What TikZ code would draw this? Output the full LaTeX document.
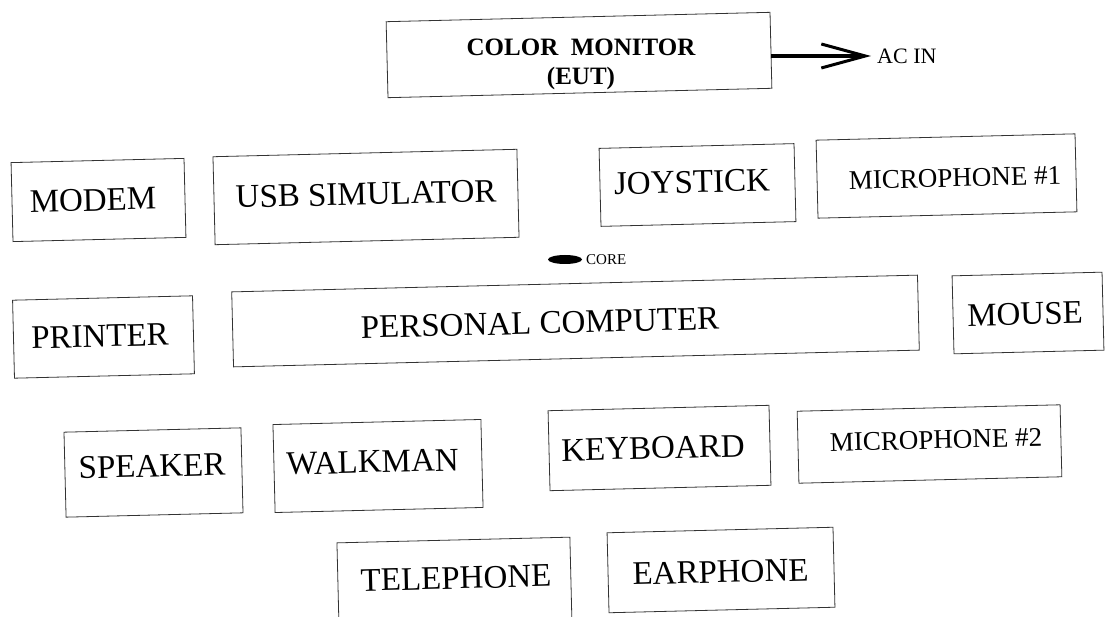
\documentclass[tikz,border=0pt]{standalone}
\usepackage{fontspec}
\setmainfont{Liberation Serif}
\usetikzlibrary{arrows.meta,shapes.geometric}
\begin{document}
\begin{tikzpicture}[x=1pt,y=-1pt,
  box/.style={draw=black!80,line width=0.8pt,rotate=1.4,inner sep=0pt},
  lbl/.style={inner sep=0pt,rotate=1.4,font=\fontsize{33}{33}\selectfont},
  slbl/.style={lbl,font=\fontsize{27}{27}\selectfont},
  mlbl/.style={inner sep=0pt,anchor=base,font=\bfseries\fontsize{25}{25}\selectfont},
  feed/.style={line width=3.2pt,shorten >=6pt,
    -{Straight Barb[length=44pt,width=24pt,line width=3pt]}}]
\useasboundingbox (0,0) rectangle (1107,617);
% EUT
\node[box,minimum width=384,minimum height=76] (mon) at (579,55) {};
\node[mlbl] (mon-t1) at (581,56) {COLOR\ \ MONITOR};
\node[mlbl] (mon-t2) at (581,85) {(EUT)};
\node[anchor=west,inner sep=0pt,font=\fontsize{22}{22}\selectfont] (acin) at (877,56) {AC IN};
\draw[feed] (mon.east |- acin.west) -- (acin.west);
% row 1
\node[box,minimum width=173,minimum height=79] (modem) at (98.5,200) {};
\node[lbl] (modem-t) at (93,200) {MODEM};
\node[box,minimum width=304,minimum height=88] (usb) at (366,197) {};
\node[lbl] (usb-t) at (366,194) {USB SIMULATOR};
\node[box,minimum width=195,minimum height=78] (joy) at (697.5,185) {};
\node[lbl] (joy-t) at (692,182) {JOYSTICK};
\node[box,minimum width=259,minimum height=78] (mic1) at (946.5,176) {};
\node[slbl] (mic1-t) at (955,178) {MICROPHONE \#1};
% core
\node[fill=black,ellipse,minimum width=34,minimum height=9,inner sep=0pt] (coreblob) at (565,259.5) {};
\node[anchor=west,inner sep=0pt,font=\fontsize{15}{15}\selectfont] (corelbl) at (586,260) {CORE};
% row 2
\node[box,minimum width=180,minimum height=78] (printer) at (103.5,337) {};
\node[lbl] (printer-t) at (100,336) {PRINTER};
\node[box,minimum width=686,minimum height=75] (pc) at (575.5,321) {};
\node[lbl] (pc-t) at (540,323) {PERSONAL COMPUTER};
\node[box,minimum width=150,minimum height=78] (mouse) at (1028,313) {};
\node[lbl] (mouse-t) at (1025,314) {MOUSE};
% row 3
\node[box,minimum width=177,minimum height=85] (speaker) at (153.5,472.5) {};
\node[lbl] (speaker-t) at (152,466) {SPEAKER};
\node[box,minimum width=208,minimum height=88] (walkman) at (378,466) {};
\node[lbl] (walkman-t) at (372.5,462) {WALKMAN};
\node[box,minimum width=221,minimum height=80] (keyboard) at (659.5,448) {};
\node[lbl] (keyboard-t) at (653,448) {KEYBOARD};
\node[box,minimum width=263,minimum height=72] (mic2) at (929.5,444) {};
\node[slbl] (mic2-t) at (936,440) {MICROPHONE \#2};
% row 4
\node[box,minimum width=233,minimum height=90] (tel) at (454.5,585) {};
\node[lbl] (tel-t) at (456,578) {TELEPHONE};
\node[box,minimum width=226,minimum height=80] (ear) at (721,570) {};
\node[lbl] (ear-t) at (720.5,572) {EARPHONE};
\end{tikzpicture}
\end{document}
